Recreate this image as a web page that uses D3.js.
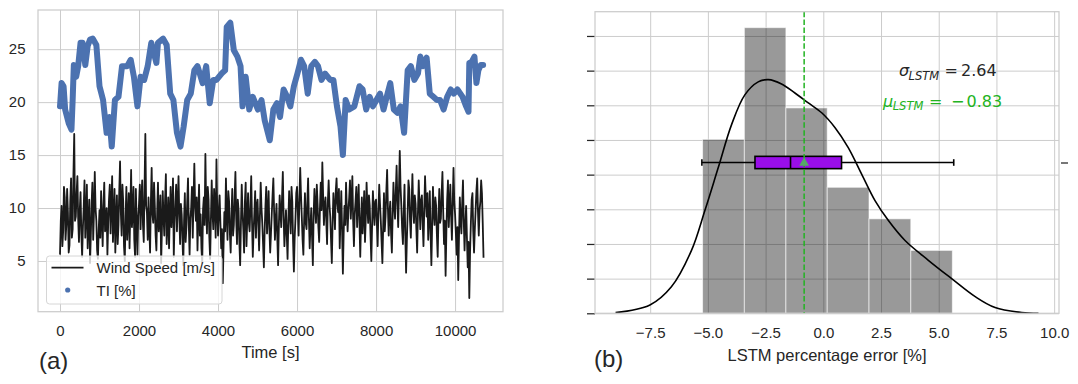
<!DOCTYPE HTML>
<html>
<head>
    <meta charset="UTF-8">
    <title>Wind speed / LSTM error</title>

    <style>
        body {
            margin: 0;
            background-color: #ffffff;
        }

        svg text {
            font-family: "Liberation Sans", Arial, sans-serif;
            fill: #262626;
        }

        .grid line {
            stroke: #cccccc;
            stroke-width: 1;
        }
    </style>

    <script src="https://cdn.jsdelivr.net/npm/d3@7"></script>
</head>
<body>

<svg id="chart" width="1078" height="384"></svg>

<script>
    // (a) time series
    var windStep = 20; // s between wind samples
    var windSpeed = [
        5.6, 8.8, 10.2, 6.4, 7.8, 12.0, 11.0, 7.0, 8.4, 11.8, 9.6, 5.8, 6.5, 10.6, 12.8, 7.2, 8.0, 13.2, 17.0, 8.8, 9.2, 11.4, 13.0, 9.0, 6.8,
        9.8, 11.5, 7.6, 5.4, 8.2, 10.0, 12.6, 7.2, 9.4, 12.2, 6.2, 8.6, 10.8, 4.8, 7.4, 10.4, 12.4, 7.0, 9.6, 13.4, 10.0, 8.8, 6.0, 5.2, 8.0,
        9.8, 7.2, 11.6, 9.0, 6.4, 10.2, 12.4, 7.8, 8.2, 10.0, 5.6, 8.6, 10.8, 12.2, 7.6, 10.4, 13.0, 6.8, 9.0, 11.8, 5.8, 8.8, 11.2, 6.6, 8.4,
        11.6, 14.4, 9.6, 7.4, 12.2, 10.6, 6.4, 5.0, 9.2, 12.0, 7.0, 8.8, 11.4, 6.2, 9.8, 13.6, 8.2, 9.4, 12.0, 7.0, 5.4, 11.8, 8.6, 5.6, 9.2,
        10.4, 12.2, 8.0, 10.8, 12.6, 8.4, 6.8, 12.0, 17.0, 10.2, 9.6, 7.0, 11.0, 8.2, 5.8, 10.6, 13.8, 9.4, 8.6, 12.4, 10.2, 7.4, 6.0, 9.6, 12.4,
        7.8, 9.0, 11.2, 4.8, 8.0, 11.6, 9.2, 7.4, 10.8, 13.2, 6.6, 8.4, 11.0, 6.2, 9.4, 12.0, 8.2, 9.8, 12.8, 5.4, 8.6, 10.6, 12.2, 7.8, 10.4,
        13.0, 9.2, 6.6, 10.4, 9.4, 7.0, 4.6, 8.8, 11.4, 6.8, 8.2, 10.6, 12.8, 8.4, 5.6, 9.0, 10.0, 12.0, 7.2, 10.8, 14.2, 10.2, 8.8, 11.0, 6.0,
        9.4, 12.2, 7.4, 9.4, 6.2, 4.8, 9.8, 11.0, 8.4, 15.1, 10.0, 7.6, 12.0, 10.8, 7.2, 5.2, 9.0, 12.6, 9.6, 8.0, 11.8, 10.4, 7.2, 14.6, 9.8,
        7.4, 9.8, 11.2, 8.6, 6.2, 8.0, 2.9, 6.4, 9.6, 7.8, 12.8, 9.4, 7.0, 11.6, 10.6, 7.6, 5.8, 9.2, 11.8, 7.4, 8.4, 11.0, 13.4, 9.0, 6.6,
        10.8, 9.8, 6.8, 4.6, 8.6, 12.2, 9.6, 8.0, 5.8, 10.6, 12.4, 6.4, 9.0, 11.4, 8.6, 7.8, 10.2, 13.0, 8.8, 5.4, 7.8, 9.6, 11.6, 7.2, 10.2,
        10.8, 8.4, 6.0, 9.2, 12.4, 10.0, 8.6, 6.6, 4.4, 7.8, 10.2, 12.0, 7.6, 9.4, 11.6, 8.0, 5.8, 7.6, 9.4, 11.2, 12.8, 9.6, 7.0, 8.8, 10.4,
        7.2, 4.6, 8.4, 11.2, 9.6, 8.2, 11.0, 13.4, 9.2, 6.4, 8.2, 9.8, 7.4, 5.2, 8.8, 11.6, 9.4, 7.6, 12.0, 10.6, 6.8, 4.0, 7.2, 9.0, 11.4,
        12.0, 9.6, 7.4, 10.8, 13.8, 11.2, 9.2, 7.0, 5.6, 9.0, 11.4, 8.6, 8.0, 10.6, 12.8, 9.0, 6.2, 8.4, 10.0, 7.2, 4.6, 9.4, 11.8, 10.0, 8.6,
        12.2, 10.4, 8.2, 6.8, 10.0, 12.4, 9.8, 14.3, 11.2, 8.4, 10.2, 11.0, 8.8, 6.6, 10.6, 12.6, 10.4, 9.2, 7.0, 4.8, 8.6, 11.4, 10.0, 8.0, 11.6,
        12.8, 10.4, 9.6, 11.8, 6.2, 9.0, 11.6, 8.0, 3.8, 7.6, 10.2, 8.4, 12.4, 10.0, 7.8, 9.8, 11.0, 12.6, 9.0, 10.8, 13.0, 8.8, 6.4, 9.4, 10.6,
        12.0, 8.2, 10.4, 12.2, 8.6, 5.4, 8.8, 11.0, 7.6, 9.4, 11.6, 6.8, 9.0, 12.4, 10.2, 8.6, 11.2, 10.2, 7.4, 5.0, 8.4, 11.6, 9.8, 8.4, 10.6,
        10.8, 8.6, 6.4, 9.8, 12.2, 10.4, 8.8, 6.8, 4.8, 8.2, 11.4, 7.8, 9.2, 11.6, 13.6, 10.0, 7.4, 9.6, 10.6, 7.6, 5.8, 9.4, 12.4, 10.2, 9.0,
        11.6, 14.0, 10.6, 8.2, 11.8, 15.4, 12.0, 10.2, 8.0, 6.6, 9.6, 12.2, 7.4, 3.9, 7.0, 9.6, 12.6, 11.8, 8.8, 7.2, 10.4, 13.2, 10.0, 8.6, 11.2,
        10.4, 8.0, 5.8, 9.6, 12.6, 10.2, 8.0, 10.8, 11.2, 8.6, 6.4, 9.8, 13.0, 10.8, 9.2, 11.4, 7.0, 9.0, 11.6, 7.6, 4.6, 8.4, 12.0, 9.6, 8.4,
        11.0, 10.2, 7.4, 5.4, 9.2, 11.8, 8.6, 9.0, 11.4, 13.4, 9.6, 6.6, 8.8, 3.6, 7.8, 10.8, 12.6, 8.2, 10.2, 12.2, 9.2, 7.0, 10.4, 13.8, 10.6,
        9.4, 7.6, 5.6, 8.2, 3.2, 7.4, 11.0, 9.0, 7.6, 10.4, 12.6, 8.8, 6.0, 8.4, 10.2, 7.2, 4.4, 6.8, 1.5, 6.0, 8.6, 10.8, 11.4, 7.8, 5.8,
        8.0, 9.8, 11.6, 12.8, 9.6, 7.4, 9.8, 10.6, 12.6, 11.4, 8.6, 5.3
    ];

    var tiTime = [
        0, 40, 90, 130, 220, 290, 320, 350, 410, 460, 520, 570, 640, 700, 760, 830, 920, 1000, 1090, 1180,
        1250, 1310, 1390, 1480, 1570, 1700, 1790, 1870, 1960, 2040, 2130, 2220, 2310, 2440, 2480, 2610, 2700, 2790, 2870, 2960,
        3050, 3130, 3220, 3310, 3400, 3480, 3610, 3700, 3790, 3880, 3960, 4090, 4180, 4220, 4310, 4400, 4490, 4570, 4620, 4700,
        4790, 4880, 5010, 5100, 5180, 5310, 5400, 5490, 5570, 5660, 5750, 5830, 5920, 6010, 6100, 6180, 6270, 6360, 6450, 6530,
        6620, 6710, 6840, 6920, 7010, 7100, 7160, 7230, 7320, 7450, 7580, 7660, 7750, 7840, 7920, 8010, 8100, 8190, 8270, 8360,
        8450, 8540, 8620, 8710, 8800, 8880, 8970, 9060, 9120, 9190, 9280, 9360, 9450, 9540, 9620, 9710, 9800, 9890, 9970, 10060,
        10190, 10280, 10340, 10360, 10420, 10490, 10540, 10590, 10650, 10710
    ];
    var tiValue = [
        19.6, 21.8, 21.5, 19.3, 18.0, 17.4, 20.2, 23.5, 22.4, 23.4, 25.6, 25.6, 23.5, 25.3, 25.9, 26.0, 25.4, 21.5, 20.2, 17.1,
        18.6, 15.8, 20.2, 20.5, 23.4, 23.4, 24.0, 22.4, 19.6, 22.4, 22.1, 23.4, 25.6, 23.7, 25.6, 26.0, 25.4, 20.8, 20.2, 17.1,
        15.8, 17.7, 20.2, 20.8, 23.0, 23.4, 21.8, 23.4, 19.9, 22.1, 22.1, 22.7, 23.0, 27.1, 27.5, 24.9, 24.3, 23.4, 19.6, 22.4,
        19.3, 20.5, 19.3, 20.2, 18.3, 16.4, 19.3, 19.9, 18.6, 21.2, 20.5, 19.6, 21.5, 22.7, 24.0, 23.4, 20.8, 23.4, 23.8, 23.4,
        22.1, 22.7, 22.1, 22.1, 19.6, 17.7, 15.0, 20.2, 19.3, 19.6, 21.5, 21.2, 19.3, 20.5, 19.6, 20.2, 20.8, 19.3, 20.5, 21.8,
        19.3, 19.0, 19.6, 17.1, 23.0, 23.4, 22.1, 22.7, 24.3, 23.4, 24.2, 20.8, 20.5, 20.2, 20.2, 19.3, 20.5, 21.2, 20.8, 21.2,
        20.5, 19.6, 19.1, 23.7, 23.8, 24.3, 21.8, 23.0, 23.5, 23.5
    ];

    var timeTicks = [0, 2000, 4000, 6000, 8000, 10000];
    var speedTicks = [5, 10, 15, 20, 25];

    // (b) error distribution
    var binEdges = [-5.23, -3.42, -1.62, 0.17, 1.98, 3.79, 5.59];
    var binDensity = [0.1004, 0.1648, 0.1185, 0.0727, 0.0545, 0.0363];

    var kdeX = [-9.0, -7.51, -6.58, -5.71, -5.13, -4.55, -3.97, -3.40, -2.82, -2.38, -1.81, -1.23, -0.65,
        -0.07, 0.51, 1.08, 1.66, 2.24, 2.82, 3.54, 4.55, 5.56, 6.58, 7.44, 8.6, 9.32];
    var kdeY = [0.0004, 0.0048, 0.0153, 0.0363, 0.0593, 0.0841, 0.109, 0.126, 0.1335, 0.1348, 0.1323, 0.1271, 0.1214,
        0.1157, 0.1071, 0.0956, 0.0803, 0.065, 0.0535, 0.042, 0.0306, 0.020, 0.0096, 0.0033, 0.0004, 0.0];

    // whisker low, q1, median, q3, whisker high
    var boxStats = [-5.26, -2.96, -1.42, 0.79, 5.65];
    var errorMean = -0.83;
    var errorStd = 2.64;

    var errorTicks = [-7.5, -5.0, -2.5, 0.0, 2.5, 5.0, 7.5, 10.0];
    var densityTicks = [0, 0.02, 0.04, 0.06, 0.08, 0.10, 0.12, 0.14, 0.16];

    var svg = d3.select("#chart");

    var A = {left: 38, right: 503, top: 10, bottom: 311.7};
    var B = {left: 595, right: 1059, top: 11.7, bottom: 313.3};

    function noDomain(g) {
        g.select(".domain").remove();
    }

    // ---------- panel (a) ----------
    var xA = d3.scaleLinear().domain([-557, 11213]).range([A.left, A.right]);
    var yA = d3.scaleLinear().domain([0.21, 28.7]).range([A.bottom, A.top]);

    svg.append("g").attr("class", "grid")
        .attr("transform", "translate(0," + A.bottom + ")")
        .call(d3.axisBottom(xA).tickValues(timeTicks).tickSize(-(A.bottom - A.top)).tickFormat(""))
        .call(noDomain);
    svg.append("g").attr("class", "grid")
        .attr("transform", "translate(" + A.left + ",0)")
        .call(d3.axisLeft(yA).tickValues(speedTicks).tickSize(-(A.right - A.left)).tickFormat(""))
        .call(noDomain);

    svg.append("g")
        .attr("transform", "translate(0," + A.bottom + ")")
        .call(d3.axisBottom(xA).tickValues(timeTicks).tickSize(0).tickPadding(14).tickFormat(d3.format("d")))
        .call(noDomain);
    svg.append("g")
        .attr("transform", "translate(" + A.left + ",0)")
        .call(d3.axisLeft(yA).tickValues(speedTicks).tickSize(0).tickPadding(12.5))
        .call(noDomain);
    svg.selectAll(".tick text").style("font-size", "15px").style("font-family", null).attr("fill", "#262626");

    var windTime = windSpeed.map(function (d, i) { return i * windStep; });

    svg.append("path")
        .datum(windSpeed)
        .attr("d", d3.line()
            .x(function (d, i) { return xA(windTime[i]); })
            .y(function (d) { return yA(d); }))
        .attr("fill", "none")
        .attr("stroke", "#1a1a1a")
        .attr("stroke-width", 1.8)
        .attr("stroke-linejoin", "round");

    svg.append("path")
        .datum(tiValue)
        .attr("d", d3.line()
            .x(function (d, i) { return xA(tiTime[i]); })
            .y(function (d) { return yA(d); }))
        .attr("fill", "none")
        .attr("stroke", "#4c72b0")
        .attr("stroke-width", 6)
        .attr("stroke-linejoin", "round")
        .attr("stroke-linecap", "round");

    svg.append("rect")
        .attr("x", A.left).attr("y", A.top)
        .attr("width", A.right - A.left).attr("height", A.bottom - A.top)
        .attr("fill", "none").attr("stroke", "#cccccc").attr("stroke-width", 1.25);

    // legend
    var leg = svg.append("g");
    leg.append("rect")
        .attr("x", 46.5).attr("y", 256).attr("width", 175.5).attr("height", 48).attr("rx", 3)
        .attr("fill", "#ffffff").attr("fill-opacity", 0.8)
        .attr("stroke", "#d6d6d6").attr("stroke-width", 1);
    leg.append("line")
        .attr("x1", 51.5).attr("x2", 83.5).attr("y1", 267.7).attr("y2", 267.7)
        .attr("stroke", "#1a1a1a").attr("stroke-width", 1.8);
    leg.append("circle")
        .attr("cx", 67.7).attr("cy", 290).attr("r", 2.6).attr("fill", "#4c72b0");
    leg.append("text").attr("x", 96.5).attr("y", 273).style("font-size", "15px").text("Wind Speed [m/s]");
    leg.append("text").attr("x", 96.5).attr("y", 295.5).style("font-size", "15px").text("TI [%]");

    svg.append("text")
        .attr("x", (A.left + A.right) / 2).attr("y", 357.5)
        .attr("text-anchor", "middle").style("font-size", "16.5px")
        .text("Time [s]");
    svg.append("text")
        .attr("x", 39).attr("y", 369)
        .style("font-size", "24px")
        .text("(a)");

    // ---------- panel (b) ----------
    var xB = d3.scaleLinear().domain([-9.89, 10.21]).range([B.left, B.right]);
    var yB = d3.scaleLinear().domain([0, 0.174]).range([B.bottom, B.top]);
    var yBox = d3.scaleLinear().domain([0.5, 1.5]).range([B.bottom, B.top]);

    svg.append("g").attr("class", "grid")
        .attr("transform", "translate(0," + B.bottom + ")")
        .call(d3.axisBottom(xB).tickValues(errorTicks).tickSize(-(B.bottom - B.top)).tickFormat(""))
        .call(noDomain);
    svg.append("g").attr("class", "grid")
        .attr("transform", "translate(" + B.left + ",0)")
        .call(d3.axisLeft(yB).tickValues(densityTicks).tickSize(-(B.right - B.left)).tickFormat(""))
        .call(noDomain);

    var axB = svg.append("g")
        .attr("transform", "translate(0," + B.bottom + ")")
        .call(d3.axisBottom(xB).tickValues(errorTicks).tickSize(0).tickPadding(14.5).tickFormat(d3.format(".1f")))
        .call(noDomain);
    axB.selectAll("text").style("font-size", "15px").attr("fill", "#262626");

    // left density ticks (no labels) and the single tick of the box axis on the right
    svg.append("g")
        .attr("transform", "translate(" + B.left + ",0)")
        .call(d3.axisLeft(yB).tickValues(densityTicks).tickSize(8).tickFormat(""))
        .call(noDomain)
        .selectAll("line").attr("stroke", "#262626").attr("stroke-width", 1.25);
    svg.append("g")
        .attr("transform", "translate(" + (B.right + 2) + ",0)")
        .call(d3.axisRight(yBox).tickValues([1]).tickSize(7).tickFormat(""))
        .call(noDomain)
        .selectAll("line").attr("stroke", "#262626").attr("stroke-width", 1.25);

    // histogram
    svg.append("g").selectAll("rect")
        .data(binDensity)
        .enter().append("rect")
        .attr("x", function (d, i) { return xB(binEdges[i]); })
        .attr("width", function (d, i) { return xB(binEdges[i + 1]) - xB(binEdges[i]); })
        .attr("y", function (d) { return yB(d); })
        .attr("height", function (d) { return yB(0) - yB(d); })
        .attr("fill", "#000000").attr("fill-opacity", 0.4)
        .attr("stroke", "#ffffff").attr("stroke-opacity", 0.6).attr("stroke-width", 1);

    // kde
    svg.append("path")
        .datum(kdeY)
        .attr("d", d3.line()
            .x(function (d, i) { return xB(kdeX[i]); })
            .y(function (d) { return yB(d); })
            .curve(d3.curveCatmullRom))
        .attr("fill", "none").attr("stroke", "#000000").attr("stroke-width", 1.6);

    // box plot
    var cy = yBox(1);
    var bh = 12.3;
    var box = svg.append("g").attr("stroke", "#000000").attr("stroke-width", 1.6);
    box.append("line")
        .attr("x1", xB(boxStats[0])).attr("x2", xB(boxStats[1]))
        .attr("y1", cy).attr("y2", cy);
    box.append("line")
        .attr("x1", xB(boxStats[3])).attr("x2", xB(boxStats[4]))
        .attr("y1", cy).attr("y2", cy);
    box.selectAll(".cap")
        .data([boxStats[0], boxStats[4]])
        .enter().append("line")
        .attr("class", "cap")
        .attr("x1", function (d) { return xB(d); }).attr("x2", function (d) { return xB(d); })
        .attr("y1", cy - 3.3).attr("y2", cy + 3.3);
    box.append("rect")
        .attr("x", xB(boxStats[1])).attr("width", xB(boxStats[3]) - xB(boxStats[1]))
        .attr("y", cy - bh / 2).attr("height", bh)
        .attr("fill", "#990ee9");
    box.append("line")
        .attr("x1", xB(boxStats[2])).attr("x2", xB(boxStats[2]))
        .attr("y1", cy - bh / 2).attr("y2", cy + bh / 2);

    // mean line
    svg.append("line")
        .attr("x1", xB(errorMean)).attr("x2", xB(errorMean))
        .attr("y1", B.top).attr("y2", B.bottom)
        .attr("stroke", "#22b322").attr("stroke-width", 1.5)
        .attr("stroke-dasharray", "5.5,2.4");

    svg.append("path")
        .attr("d", d3.symbol().type(d3.symbolTriangle).size(42)())
        .attr("transform", "translate(" + xB(errorMean) + "," + (cy + 0.5) + ")")
        .attr("fill", "#55a868");

    svg.append("rect")
        .attr("x", B.left).attr("y", B.top)
        .attr("width", B.right - B.left).attr("height", B.bottom - B.top)
        .attr("fill", "none").attr("stroke", "#cccccc").attr("stroke-width", 1.25);

    // annotations
    var mathFont = "'DejaVu Sans', sans-serif";
    var sig = svg.append("text").attr("y", 76).style("font-family", mathFont).style("font-size", "16px");
    sig.append("tspan").attr("x", 899).style("font-style", "italic").text("σ");
    sig.append("tspan").attr("x", 908.5).attr("dy", 3.5).style("font-style", "italic").style("font-size", "11.5px").text("LSTM");
    sig.append("tspan").attr("x", 944.5).attr("dy", -3.5).text("=");
    sig.append("tspan").attr("x", 961).text(d3.format(".2f")(errorStd));

    var mu = svg.append("text").attr("y", 106.7).style("font-family", mathFont).style("font-size", "16px");
    mu.append("tspan").attr("x", 883).style("font-style", "italic").text("μ");
    mu.append("tspan").attr("x", 892.7).attr("dy", 3.5).style("font-style", "italic").style("font-size", "11.5px").text("LSTM");
    mu.append("tspan").attr("x", 929).attr("dy", -3.5).text("=");
    mu.append("tspan").attr("x", 951).text("\u2212");
    mu.append("tspan").attr("x", 966.5).text(d3.format(".2f")(Math.abs(errorMean)));
    mu.selectAll("tspan").style("fill", "#22b322");

    svg.append("text")
        .attr("x", (B.left + B.right) / 2).attr("y", 361)
        .attr("text-anchor", "middle").style("font-size", "16.5px")
        .text("LSTM percentage error [%]");
    svg.append("text")
        .attr("x", 594).attr("y", 367)
        .style("font-size", "24px")
        .text("(b)");
</script>
</body>
</html>
